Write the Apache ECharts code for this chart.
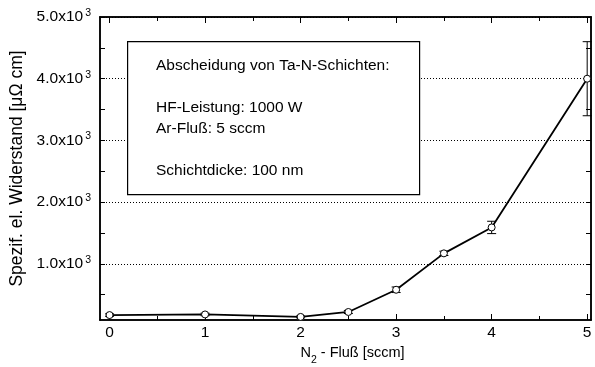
<!DOCTYPE html>
<html>
<head>
<meta charset="utf-8">
<script src="https://cdn.jsdelivr.net/npm/echarts@6/dist/echarts.min.js"></script>
<style>
  html, body { margin: 0; padding: 0; background: #fff; }
  #chart { width: 595px; height: 367px; }
</style>
</head>
<body>
<div id="chart"></div>
<script>
// N2 flow (sccm) and the specific electrical resistivity of Ta-N films (µΩ cm)
const nitrogenFlow = [0, 1, 2, 2.5, 3, 3.5, 4, 5];
const resistivity = [170, 180, 140, 220, 580, 1170, 1590, 4000];
const resistivityError = [20, 20, 15, 25, 45, 35, 100, 600];

// tick positions
const xMajorTicks = [0, 1, 2, 3, 4, 5];
const xMinorTicks = [0.5, 1.5, 2.5, 3.5, 4.5];
const yMajorTicks = [1000, 2000, 3000, 4000, 5000];
const yMinorTicks = [500, 1500, 2500, 3500, 4500];

// annotation lines
const infoLines = [
  'Abscheidung von Ta-N-Schichten:',
  '',
  'HF-Leistung: 1000 W',
  'Ar-Fluß: 5 sccm',
  '',
  'Schichtdicke: 100 nm'
];

const FONT = '"Liberation Sans", Arial, sans-serif';
const X_MIN = -0.1, X_MAX = 5.04;
const Y_MIN = 90, Y_MAX = 5000;
const FRAME = { color: '#000', width: 1.5 };

const points = nitrogenFlow.map((x, i) => [x, resistivity[i]]);
const errors = nitrogenFlow.map((x, i) => [x, resistivity[i] - resistivityError[i], resistivity[i] + resistivityError[i]]);

function xAxisDef(position, ticks, len, withLabels) {
  return {
    type: 'value', position: position, min: X_MIN, max: X_MAX,
    axisLine: { show: true, onZero: false, lineStyle: FRAME },
    axisTick: { show: true, inside: true, length: len, customValues: ticks, lineStyle: { color: '#000', width: 1 } },
    axisLabel: withLabels ? {
      show: true, customValues: ticks, fontSize: 15.5, color: '#000', fontFamily: FONT, margin: 5
    } : { show: false },
    splitLine: { show: false }
  };
}

function yAxisDef(position, ticks, len, withLabels, withGrid) {
  return {
    type: 'value', position: position, min: Y_MIN, max: Y_MAX,
    axisLine: { show: true, onZero: false, lineStyle: FRAME },
    axisTick: { show: true, inside: true, length: len, customValues: ticks, lineStyle: { color: '#000', width: 1 } },
    axisLabel: withLabels ? {
      show: true, customValues: ticks, color: '#000', margin: 9,
      fontSize: 15.5, fontFamily: FONT,
      formatter: v => '{a|' + (v / 1000).toFixed(1) + 'x10}{sup|3}',
      rich: {
        a: { fontSize: 15.5, fontFamily: FONT, color: '#000' },
        sup: { fontSize: 10.5, fontFamily: FONT, color: '#000', padding: [0, 0, 8, 2] }
      }
    } : { show: false },
    splitLine: withGrid ? { show: true, lineStyle: { color: '#000', width: 1, type: [1, 2] } } : { show: false }
  };
}

const xAxes = [
  xAxisDef('bottom', xMajorTicks, 6, true),
  xAxisDef('bottom', xMinorTicks, 4, false),
  xAxisDef('top', xMajorTicks, 6, false),
  xAxisDef('top', xMinorTicks, 4, false)
];
Object.assign(xAxes[0], {
  name: '{a|N}{sub|2}{a| - Fluß [sccm]}',
  nameLocation: 'middle', nameGap: 15,
  nameTextStyle: {
    padding: [0, 0, 0, 14],
    rich: {
      a: { fontSize: 14.5, fontFamily: FONT, color: '#000' },
      sub: { fontSize: 10.5, fontFamily: FONT, color: '#000', padding: [13, 0, 0, 0] }
    }
  }
});

const yAxes = [
  yAxisDef('left', yMajorTicks, 5, true, true),
  yAxisDef('left', yMinorTicks, 5, false, false),
  yAxisDef('right', yMajorTicks, 5, false, false),
  yAxisDef('right', yMinorTicks, 5, false, false)
];
Object.assign(yAxes[0], {
  name: 'Spezif. el. Widerstand [μΩ cm]',
  nameLocation: 'middle', nameGap: 72,
  nameTextStyle: { fontSize: 17.5, fontFamily: FONT, color: '#000' }
});

const chart = echarts.init(document.getElementById('chart'), null, { renderer: 'canvas' });

chart.setOption({
  animation: false,
  backgroundColor: '#fff',
  grid: { left: 100, right: 4, top: 17, bottom: 47, containLabel: false, outerBoundsMode: 'none' },
  xAxis: xAxes,
  yAxis: yAxes,
  series: [
    {
      // error bars with caps
      type: 'custom',
      xAxisIndex: 0, yAxisIndex: 0,
      data: errors,
      z: 2,
      renderItem: function (params, api) {
        const x = api.value(0);
        const lo = api.coord([x, api.value(1)]);
        const hi = api.coord([x, api.value(2)]);
        const half = 4.5;
        const style = { stroke: '#000', lineWidth: 1 };
        return {
          type: 'group',
          children: [
            { type: 'line', shape: { x1: lo[0], y1: lo[1], x2: hi[0], y2: hi[1] }, style: style },
            { type: 'line', shape: { x1: lo[0] - half, y1: lo[1], x2: lo[0] + half, y2: lo[1] }, style: style },
            { type: 'line', shape: { x1: hi[0] - half, y1: hi[1], x2: hi[0] + half, y2: hi[1] }, style: style }
          ]
        };
      }
    },
    {
      type: 'line',
      xAxisIndex: 0, yAxisIndex: 0,
      data: points,
      z: 3,
      symbol: 'circle',
      symbolSize: 7,
      lineStyle: { color: '#000', width: 1.8 },
      itemStyle: { color: '#fff', borderColor: '#000', borderWidth: 1 }
    }
  ],
  graphic: [
    {
      type: 'rect', z: 100, left: 127, top: 41,
      shape: { width: 292, height: 153 },
      style: { fill: '#fff', stroke: '#000', lineWidth: 1.2 }
    },
    {
      type: 'text', z: 101, left: 156, top: 55.5,
      style: {
        text: infoLines.join('\n'),
        font: '15.5px ' + FONT,
        lineHeight: 21,
        fill: '#000'
      }
    }
  ]
});
</script>
</body>
</html>
